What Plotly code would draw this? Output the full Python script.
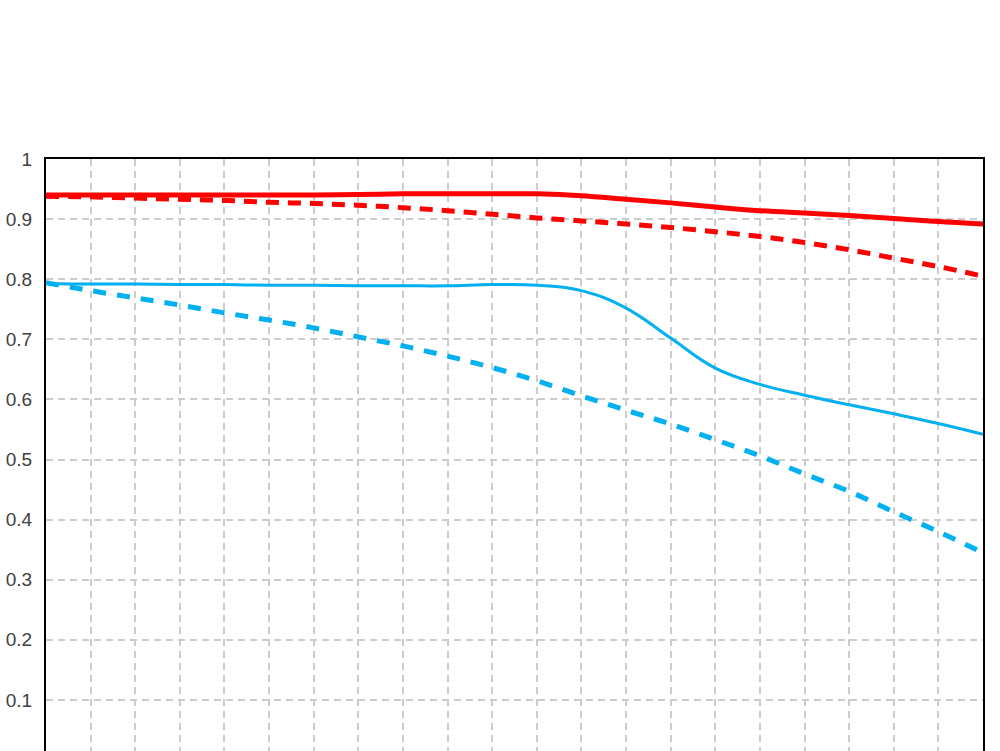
import plotly.graph_objects as go

# Image height positions (mm) and MTF values
x_pos = list(range(0, 22))

red_solid = [0.940, 0.940, 0.940, 0.940, 0.940, 0.940, 0.940, 0.941, 0.942, 0.942,
             0.942, 0.942, 0.939, 0.933, 0.927, 0.920, 0.914, 0.910, 0.906, 0.901,
             0.896, 0.892]
red_dashed = [0.938, 0.937, 0.935, 0.933, 0.931, 0.928, 0.926, 0.923, 0.919, 0.914,
              0.908, 0.902, 0.897, 0.892, 0.886, 0.879, 0.871, 0.861, 0.849, 0.835,
              0.821, 0.805]
blue_solid = [0.793, 0.792, 0.792, 0.791, 0.791, 0.790, 0.790, 0.789, 0.789, 0.789,
              0.791, 0.790, 0.781, 0.752, 0.702, 0.652, 0.625, 0.607, 0.591, 0.576,
              0.560, 0.542]
blue_dashed = [0.794, 0.781, 0.769, 0.757, 0.744, 0.732, 0.719, 0.704, 0.689, 0.672,
               0.653, 0.631, 0.606, 0.582, 0.559, 0.533, 0.506, 0.476, 0.447, 0.413,
               0.380, 0.345]

y_ticks = [0, 0.1, 0.2, 0.3, 0.4, 0.5, 0.6, 0.7, 0.8, 0.9, 1]
y_tick_text = ["0", "0.1", "0.2", "0.3", "0.4", "0.5", "0.6", "0.7", "0.8", "0.9", "1"]

RED = "#ff0000"
BLUE = "#00b0f0"

fig = go.Figure()
fig.add_trace(go.Scatter(x=x_pos, y=blue_dashed, mode="lines",
                         line=dict(color=BLUE, width=5, dash="13px,11px", shape="spline", smoothing=1.0)))
fig.add_trace(go.Scatter(x=x_pos, y=blue_solid, mode="lines",
                         line=dict(color=BLUE, width=3, shape="spline", smoothing=1.2)))
fig.add_trace(go.Scatter(x=x_pos, y=red_dashed, mode="lines",
                         line=dict(color=RED, width=5, dash="13px,9px", shape="spline", smoothing=1.0)))
fig.add_trace(go.Scatter(x=x_pos, y=red_solid, mode="lines",
                         line=dict(color=RED, width=5, shape="spline", smoothing=1.0)))

fig.update_layout(
    width=1000, height=751,
    margin=dict(l=46, r=17, t=159, b=0, autoexpand=False),
    paper_bgcolor="white", plot_bgcolor="white",
    showlegend=False,
    font=dict(family="Liberation Sans", size=19, color="#404040"),
)
fig.update_xaxes(
    range=[0, 21], dtick=1, tick0=0, side="top",
    showticklabels=False, ticks="", automargin=False,
    showgrid=True, gridcolor="#cccccc", griddash="7px,5px", gridwidth=1.5,
    showline=True, linecolor="black", linewidth=2, mirror=False,
    zeroline=False,
)
fig.update_yaxes(
    range=[0.015, 1.0], tickvals=y_ticks, ticktext=y_tick_text,
    ticks="", ticklabelstandoff=8, automargin=False,
    showgrid=True, gridcolor="#cccccc", griddash="7px,5px", gridwidth=1.5,
    showline=True, linecolor="black", linewidth=2, mirror=True,
    zeroline=False,
)

fig.write_html(
    "out.html",
    config={"displayModeBar": False},
    post_script="document.body.style.margin='0';document.body.style.overflow='hidden';",
)
